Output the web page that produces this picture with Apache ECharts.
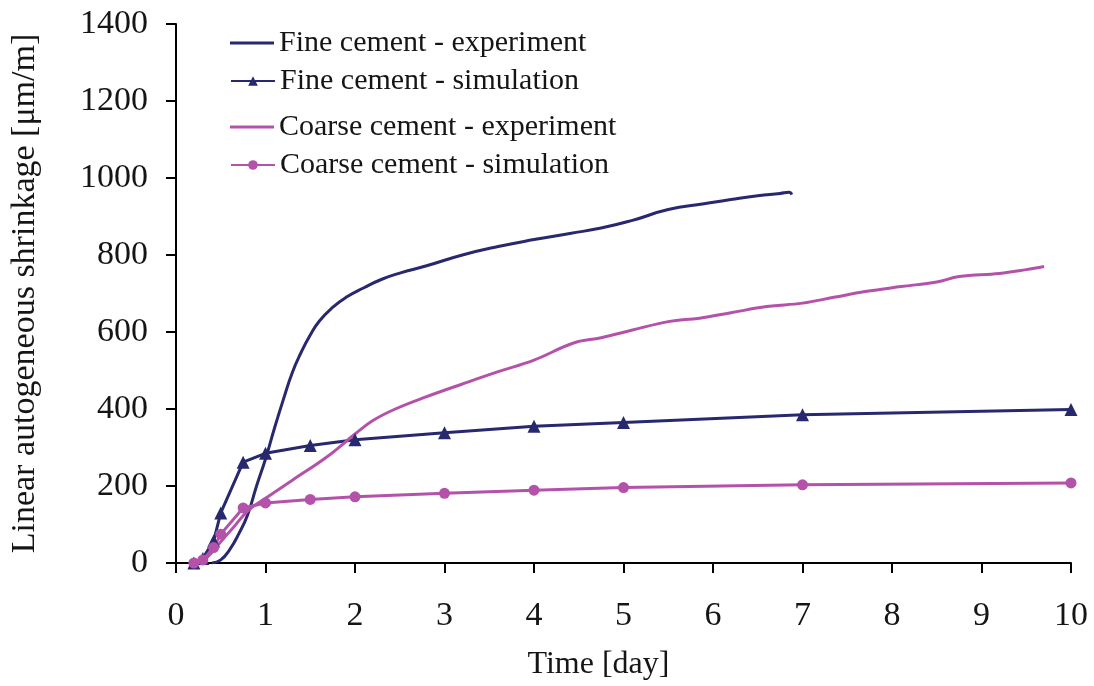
<!DOCTYPE html>
<html>
<head>
<meta charset="utf-8">
<script src="https://cdn.jsdelivr.net/npm/echarts@6/dist/echarts.min.js"></script>
<style>html,body{margin:0;padding:0;background:#fff}#c{width:1094px;height:686px}</style>
</head>
<body>
<div id="c"></div>
<script>
const seriesNames = ['Fine cement - experiment','Fine cement - simulation','Coarse cement - experiment','Coarse cement - simulation'];
const fineExpX = [0.4,0.5,0.6,0.7,0.8,0.9,1.0,1.1,1.2,1.3,1.4,1.5,1.6,1.75,1.9,2.1,2.3,2.5,2.8,3.2,3.6,4.0,4.4,4.75,5.1,5.5,5.9,6.2,6.5,6.75,6.85,6.88];
const fineExpY = [0,8,35,75,125,200,270,350,425,495,548,592,628,664,690,715,737,753,772,800,822,840,856,870,890,918,933,944,954,960,963,957];
const fineSimX = [0.2,0.3,0.42,0.5,0.75,1,1.5,2,3,4,5,7,10];
const fineSimY = [0,12,57,130,262,285,305,320,338,355,365,385,399];
const coarseExpX = [0.25,0.35,0.5,0.65,0.8,1.0,1.3,1.7,2.0,2.2,2.45,2.8,3.2,3.6,4.0,4.45,4.75,5.1,5.5,5.85,6.2,6.6,7.0,7.35,7.7,8.1,8.5,8.75,9.2,9.5,9.7];
const coarseExpY = [0,15,55,95,135,168,215,278,335,370,400,432,465,497,527,572,585,605,627,636,650,666,675,690,705,718,730,744,752,762,770];
const coarseSimX = [0.2,0.3,0.42,0.5,0.75,1,1.5,2,3,4,5,7,10];
const coarseSimY = [0,8,40,75,143,156,165,172,181,189,196,203,208];
const xTicks = [0,1,2,3,4,5,6,7,8,9,10];
const yTicks = [0,200,400,600,800,1000,1200,1400];

const navy = '#28286F';
const pink = '#B452A9';
const font = "'Liberation Serif','Times New Roman',serif";
const txt = '#151515';
const zip = (xs, ys) => xs.map((x, i) => [x, ys[i]]);

const chart = echarts.init(document.getElementById('c'));
const legendBase = {
  orient: 'vertical', left: 225, itemWidth: 44, itemHeight: 12, itemGap: 6,
  textStyle: {fontFamily: font, fontSize: 30, color: txt}, selectedMode: false
};
chart.setOption({
  animation: false,
  backgroundColor: '#fff',
  grid: {left: 176, right: 23, top: 24, bottom: 123},
  legend: [
    Object.assign({}, legendBase, {top: 23, itemHeight: 3, data: [{name: seriesNames[0], icon: 'rect'}]}),
    Object.assign({}, legendBase, {top: 61, data: [seriesNames[1]]}),
    Object.assign({}, legendBase, {top: 107, itemHeight: 3, data: [{name: seriesNames[2], icon: 'rect'}]}),
    Object.assign({}, legendBase, {top: 145, data: [seriesNames[3]]})
  ],
  xAxis: {
    type: 'value', min: xTicks[0], max: xTicks[xTicks.length - 1], interval: 1,
    name: 'Time [day]', nameLocation: 'middle', nameGap: 86,
    nameTextStyle: {fontFamily: font, fontSize: 32, color: txt, padding: [0, 50, 0, 0]},
    axisLine: {onZero: false, lineStyle: {color: '#000', width: 2}},
    axisTick: {inside: false, length: 10, lineStyle: {color: '#000', width: 2}},
    axisLabel: {fontFamily: font, fontSize: 34, color: txt, margin: 36},
    splitLine: {show: false}
  },
  yAxis: {
    type: 'value', min: yTicks[0], max: yTicks[yTicks.length - 1], interval: 200,
    name: 'Linear autogeneous shrinkage [\u03bcm/m]', nameLocation: 'middle', nameGap: 134,
    nameTextStyle: {fontFamily: font, fontSize: 34, color: txt},
    axisLine: {show: true, lineStyle: {color: '#000', width: 2}},
    axisTick: {show: true, inside: false, length: 10, lineStyle: {color: '#000', width: 2}},
    axisLabel: {fontFamily: font, fontSize: 34, color: txt, margin: 28, formatter: v => String(v)},
    splitLine: {show: false}
  },
  series: [
    {name: seriesNames[0], type: 'line', data: zip(fineExpX, fineExpY), smooth: 0.5, showSymbol: false, symbol: 'none',
     lineStyle: {color: navy, width: 3}, itemStyle: {color: navy}},
    {name: seriesNames[1], type: 'line', data: zip(fineSimX, fineSimY), symbol: 'triangle', symbolSize: 13,
     lineStyle: {color: navy, width: 3}, itemStyle: {color: navy}},
    {name: seriesNames[2], type: 'line', data: zip(coarseExpX, coarseExpY), smooth: 0.4, showSymbol: false, symbol: 'none',
     lineStyle: {color: pink, width: 3}, itemStyle: {color: pink}},
    {name: seriesNames[3], type: 'line', data: zip(coarseSimX, coarseSimY), symbol: 'circle', symbolSize: 11,
     lineStyle: {color: pink, width: 3}, itemStyle: {color: pink}}
  ]
});
</script>
</body>
</html>
